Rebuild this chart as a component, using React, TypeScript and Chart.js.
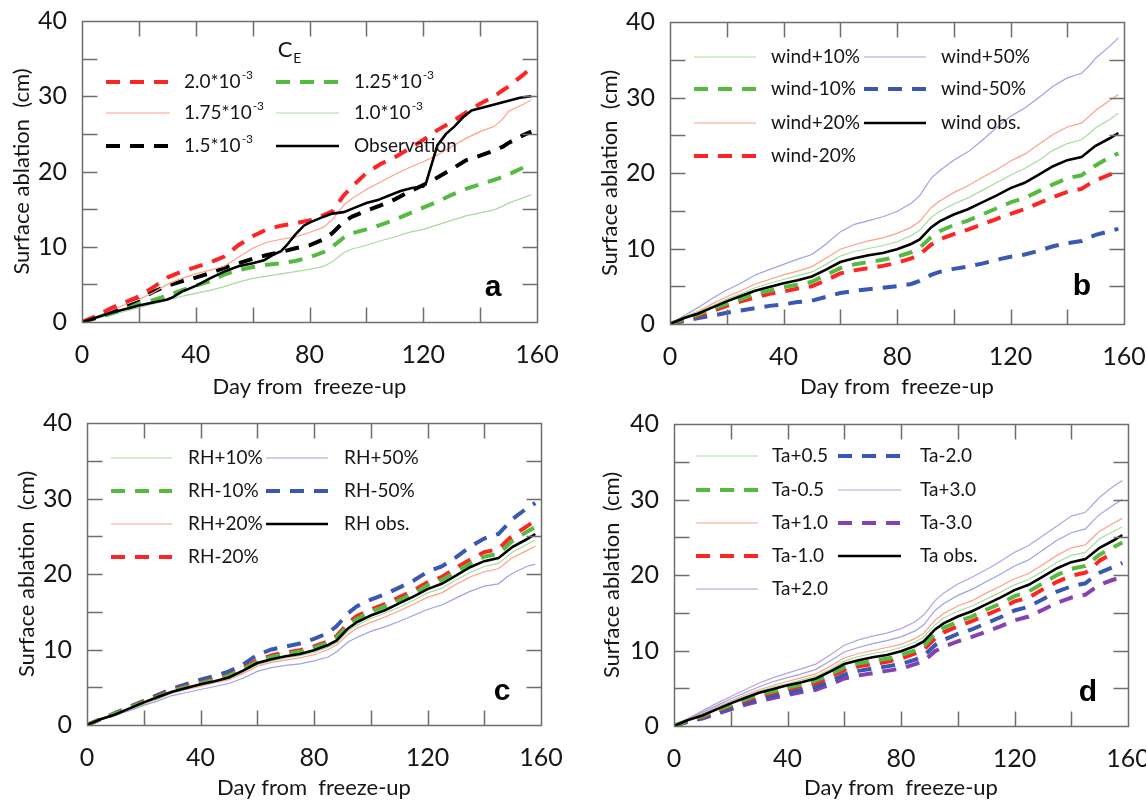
import React, { useEffect, useRef } from 'react';
import { Chart, registerables } from 'chart.js';
Chart.register(...registerables);

// ---------- DATA ----------
const days = [0, 5, 10, 15, 20, 25, 30, 35, 40, 45, 50, 55, 60, 65, 70, 75, 80, 85, 88, 92, 95, 100, 105, 110, 115, 120, 125, 130, 135, 140, 145, 148, 150, 155, 158];

// Panel a
const obsADays = [0, 5, 10, 15, 20, 25, 30, 32, 35, 40, 45, 50, 55, 60, 64, 67, 70, 72, 75, 78, 80, 85, 88, 92, 96, 100, 104, 108, 112, 116, 120, 121, 123, 125, 128, 131, 134, 137, 142, 146, 150, 154, 158];
const obsA = [0, 0.6, 1.2, 1.7, 2.2, 2.6, 3.0, 3.3, 4.0, 4.8, 5.8, 6.7, 7.4, 7.8, 8.2, 8.9, 9.4, 10.2, 11.6, 12.8, 13.2, 14.0, 14.4, 14.6, 15.2, 15.8, 16.2, 16.8, 17.4, 17.8, 18.0, 18.5, 21.0, 23.5, 25.0, 26.0, 27.2, 28.1, 28.6, 29.0, 29.4, 29.8, 30.0];
const ce20 = [0, 0.8, 1.8, 2.6, 3.4, 4.6, 5.9, 6.7, 7.3, 7.9, 8.7, 10.2, 11.4, 12.3, 12.8, 13.1, 13.5, 14.2, 14.7, 16.8, 18.0, 19.8, 21.0, 21.9, 23.0, 24.2, 25.5, 26.6, 27.8, 29.0, 30.0, 30.8, 31.3, 32.8, 33.8];
const ce175 = [0, 0.7, 1.5, 2.3, 3.0, 3.9, 5.0, 5.8, 6.4, 6.9, 7.4, 8.6, 9.8, 10.6, 11.0, 11.3, 11.9, 12.6, 13.6, 15.5, 16.4, 17.6, 18.6, 19.6, 20.5, 21.3, 22.2, 23.3, 24.4, 25.3, 26.0, 27.0, 28.0, 28.9, 29.5];
const ce15 = [0, 0.6, 1.4, 2.2, 3.0, 4.0, 4.8, 5.4, 5.9, 6.5, 7.2, 7.8, 8.4, 8.9, 9.3, 9.8, 10.2, 11.0, 11.8, 13.3, 14.0, 14.8, 15.5, 16.3, 17.3, 18.2, 19.2, 20.3, 21.5, 22.1, 22.8, 23.3, 23.8, 24.8, 25.3];
const ce125 = [0, 0.5, 1.1, 1.7, 2.4, 2.9, 3.5, 4.2, 4.8, 5.4, 6.3, 6.9, 7.3, 7.6, 7.8, 8.1, 8.6, 9.3, 10.0, 11.2, 11.8, 12.3, 12.9, 13.6, 14.4, 15.2, 16.0, 16.9, 17.7, 18.3, 18.9, 19.3, 19.6, 20.5, 21.1];
const ce10 = [0, 0.5, 0.9, 1.4, 1.9, 2.4, 2.9, 3.4, 3.8, 4.2, 4.7, 5.3, 5.8, 6.1, 6.4, 6.7, 7.0, 7.4, 8.0, 9.2, 9.7, 10.2, 10.8, 11.3, 11.9, 12.3, 12.9, 13.5, 14.1, 14.5, 14.9, 15.4, 15.8, 16.5, 16.9];

// Shared "obs." run (panels b, c, d)
const baseObs = [0, 0.8, 1.4, 2.2, 3.0, 3.7, 4.4, 4.9, 5.4, 5.8, 6.3, 7.2, 8.2, 8.7, 9.1, 9.4, 9.9, 10.6, 11.2, 12.8, 13.6, 14.5, 15.2, 16.1, 17.0, 18.0, 18.7, 19.8, 20.9, 21.7, 22.1, 23.0, 23.6, 24.6, 25.3];

// Panel b
const windP10 = [0, 0.85, 1.6, 2.4, 3.3, 4.0, 4.8, 5.4, 5.9, 6.4, 6.9, 7.9, 9.0, 9.6, 10.0, 10.4, 10.9, 11.7, 12.4, 14.1, 14.9, 15.9, 16.7, 17.7, 18.7, 19.7, 20.6, 21.7, 23.0, 23.9, 24.4, 25.3, 26.0, 27.1, 27.9];
const windM10 = [0, 0.7, 1.3, 2.0, 2.7, 3.3, 4.0, 4.4, 4.9, 5.2, 5.6, 6.5, 7.4, 7.9, 8.2, 8.5, 8.9, 9.5, 10.1, 11.5, 12.3, 13.1, 13.7, 14.5, 15.3, 16.1, 16.7, 17.6, 18.5, 19.3, 19.7, 20.5, 21.0, 22.1, 22.6];
const windP20 = [0, 0.9, 1.7, 2.7, 3.6, 4.4, 5.3, 5.9, 6.5, 7.0, 7.6, 8.7, 9.9, 10.5, 11.0, 11.4, 12.0, 12.8, 13.6, 15.4, 16.3, 17.4, 18.3, 19.4, 20.4, 21.6, 22.5, 23.8, 25.1, 26.1, 26.6, 27.6, 28.3, 29.6, 30.4];
const windM20 = [0, 0.6, 1.1, 1.7, 2.4, 3.0, 3.5, 4.0, 4.3, 4.7, 5.0, 5.8, 6.7, 7.1, 7.4, 7.7, 8.1, 8.7, 9.2, 10.5, 11.2, 11.9, 12.5, 13.2, 13.9, 14.6, 15.2, 16.0, 16.8, 17.5, 17.9, 18.6, 19.0, 19.8, 20.2];
const windP50 = [0, 1.1, 2.2, 3.4, 4.5, 5.4, 6.5, 7.2, 7.9, 8.6, 9.2, 10.6, 12.2, 13.2, 13.7, 14.2, 14.9, 16.0, 17.0, 19.3, 20.3, 21.7, 22.8, 24.3, 26.0, 27.5, 28.6, 30.0, 31.5, 32.6, 33.2, 34.3, 35.2, 36.8, 37.9];
const windM50 = [0, 0.4, 0.8, 1.1, 1.5, 1.8, 2.1, 2.4, 2.6, 2.9, 3.1, 3.6, 4.1, 4.4, 4.6, 4.8, 5.0, 5.3, 5.7, 6.5, 6.9, 7.3, 7.6, 8.0, 8.5, 8.9, 9.2, 9.7, 10.3, 10.7, 11.0, 11.5, 11.8, 12.3, 12.6];

// Panel c
const rhP10 = [0, 0.8, 1.4, 2.1, 2.9, 3.6, 4.3, 4.8, 5.3, 5.7, 6.2, 7.0, 8.0, 8.5, 8.9, 9.2, 9.6, 10.3, 10.9, 12.4, 13.2, 14.1, 14.8, 15.6, 16.5, 17.5, 18.1, 19.2, 20.2, 21.0, 21.4, 22.3, 22.9, 23.9, 24.5];
const rhM10 = [0, 0.8, 1.5, 2.3, 3.0, 3.7, 4.5, 5.0, 5.5, 6.0, 6.5, 7.4, 8.4, 9.0, 9.4, 9.7, 10.2, 10.9, 11.6, 13.2, 14.0, 15.0, 15.7, 16.5, 17.4, 18.5, 19.2, 20.3, 21.4, 22.3, 22.7, 23.7, 24.4, 25.6, 26.2];
const rhP20 = [0, 0.7, 1.4, 2.1, 2.8, 3.5, 4.2, 4.7, 5.1, 5.6, 6.0, 6.8, 7.8, 8.3, 8.6, 8.9, 9.3, 10.0, 10.6, 12.0, 12.8, 13.6, 14.3, 15.1, 16.0, 16.9, 17.5, 18.6, 19.6, 20.3, 20.7, 21.6, 22.2, 23.1, 23.7];
const rhM20 = [0, 0.8, 1.5, 2.3, 3.1, 3.8, 4.6, 5.1, 5.6, 6.1, 6.6, 7.5, 8.6, 9.2, 9.6, 9.9, 10.4, 11.1, 11.8, 13.5, 14.4, 15.3, 16.0, 16.9, 17.8, 18.9, 19.6, 20.8, 21.9, 22.9, 23.3, 24.4, 25.1, 26.3, 27.1];
const rhP50 = [0, 0.7, 1.3, 1.9, 2.6, 3.2, 3.9, 4.3, 4.7, 5.1, 5.5, 6.2, 7.1, 7.6, 7.9, 8.1, 8.5, 9.0, 9.7, 11.0, 11.6, 12.4, 13.0, 13.7, 14.5, 15.3, 15.9, 16.8, 17.7, 18.4, 18.7, 19.6, 20.1, 21.0, 21.3];
const rhM50 = [0, 0.8, 1.6, 2.4, 3.2, 4.0, 4.8, 5.4, 6.0, 6.5, 7.1, 8.0, 9.3, 10.0, 10.4, 10.8, 11.4, 12.2, 13.1, 14.8, 15.7, 16.6, 17.3, 18.2, 19.1, 20.3, 21.0, 22.2, 23.6, 24.7, 25.3, 26.5, 27.3, 28.7, 29.4];

// Panel d
const taP05 = [0, 0.85, 1.5, 2.4, 3.2, 3.9, 4.6, 5.2, 5.6, 6.1, 6.6, 7.5, 8.6, 9.2, 9.6, 9.9, 10.4, 11.1, 11.8, 13.4, 14.3, 15.2, 15.9, 16.8, 17.7, 18.7, 19.4, 20.5, 21.7, 22.6, 23.0, 24.1, 24.8, 25.8, 26.4];
const taM05 = [0, 0.75, 1.3, 2.1, 2.8, 3.5, 4.2, 4.6, 5.1, 5.5, 6.0, 6.8, 7.8, 8.3, 8.6, 8.9, 9.4, 10.0, 10.6, 12.2, 13.0, 13.8, 14.5, 15.4, 16.2, 17.2, 17.8, 18.9, 20.0, 20.8, 21.2, 22.1, 22.7, 23.7, 24.3];
const taP10 = [0, 0.9, 1.6, 2.5, 3.3, 4.1, 4.8, 5.4, 5.9, 6.4, 6.9, 7.9, 9.0, 9.6, 10.0, 10.4, 10.8, 11.6, 12.3, 14.0, 14.9, 15.9, 16.6, 17.6, 18.5, 19.5, 20.2, 21.4, 22.6, 23.6, 24.0, 25.1, 25.8, 26.9, 27.5];
const taM10 = [0, 0.7, 1.2, 2.0, 2.7, 3.3, 4.0, 4.4, 4.9, 5.3, 5.7, 6.5, 7.4, 7.9, 8.2, 8.5, 8.9, 9.6, 10.1, 11.6, 12.4, 13.2, 13.9, 14.7, 15.5, 16.5, 17.0, 18.1, 19.1, 19.9, 20.3, 21.2, 21.9, 23.0, null];
const taP20 = [0, 0.95, 1.8, 2.7, 3.6, 4.4, 5.2, 5.9, 6.4, 6.9, 7.5, 8.6, 9.8, 10.4, 10.9, 11.3, 11.8, 12.6, 13.4, 15.3, 16.2, 17.3, 18.1, 19.1, 20.1, 21.2, 22.0, 23.3, 24.6, 25.6, 26.1, 27.3, 28.0, 29.3, 30.0];
const taM20 = [0, 0.6, 1.1, 1.8, 2.4, 3.0, 3.6, 4.0, 4.4, 4.8, 5.2, 5.9, 6.8, 7.3, 7.6, 7.9, 8.2, 8.8, 9.3, 10.7, 11.4, 12.2, 12.8, 13.6, 14.4, 15.3, 15.8, 16.8, 17.8, 18.5, 18.9, 19.8, 20.3, 21.1, 21.6];
const taP30 = [0, 1.0, 2.0, 3.0, 3.9, 4.8, 5.7, 6.4, 7.0, 7.6, 8.2, 9.4, 10.7, 11.4, 11.9, 12.3, 12.9, 13.8, 14.7, 16.6, 17.6, 18.8, 19.7, 20.7, 21.8, 23.0, 23.9, 25.2, 26.5, 27.8, 28.3, 29.5, 30.3, 31.8, 32.5];
const taM30 = [0, 0.6, 1.0, 1.6, 2.2, 2.8, 3.3, 3.7, 4.1, 4.5, 4.8, 5.5, 6.3, 6.7, 7.0, 7.3, 7.6, 8.2, 8.6, 9.9, 10.5, 11.2, 11.8, 12.5, 13.2, 14.0, 14.5, 15.4, 16.3, 17.0, 17.4, 18.2, 18.7, 19.4, 19.7];

// Axes
const xMin = 0, xMax = 160, xStep = 20, xLabelEvery = 40;
const yMin = 0, yMax = 40, yStep = 5, yLabelEvery = 10;
const xTitle = 'Day from  freeze-up';
const yTitle = 'Surface ablation  (cm)';

// ---------- STYLES ----------
const GRID = '#6e6e6e';
const TXT = '#161616';
const FONT = 'Lato, "Open Sans", sans-serif';
const RED = '#ff2424';
const SALMON = '#ffa088';
const GREEN = '#55bb40';
const LGREEN = '#a8dc9c';
const BLUE = '#3858b4';
const LAV = '#9ea2e2';
const LPURPLE = '#bba0e2';
const PURPLE = '#8640b0';
const BLACK = '#000000';
const DASH = [14, 10];
const TICK_LEN = 15;
const LEGEND_FONT = 19;

type S = { label: string; x?: number[]; y: (number | null)[]; color: string; w: number; dash?: number[] };

function ds(s: S) {
  const xs = s.x || days;
  return {
    label: s.label,
    data: xs.map((d, i) => ({ x: d, y: s.y[i] })),
    borderColor: s.color,
    backgroundColor: s.color,
    borderWidth: s.w,
    borderDash: s.dash || [],
    pointRadius: 0,
    tension: 0,
    fill: false,
    spanGaps: false,
  };
}

const thin = 1.2;
const dashW = 4;
const obsW = 2.6;

type Panel = {
  left: number; top: number; w: number; h: number;
  yW: number; padR: number; padT: number; xH: number;
  yTitlePad: number;
  series: S[];
  legend: { cols: number[][]; lineStart: number[]; lineEnd: number[]; textX: number[]; rows: number[] };
  title?: { x: number; y: number };
  letter: string; letterDX: number; letterDY: number;
};

const panels: Panel[] = [
  {
    left: 0, top: 0, w: 573, h: 400, yW: 82, padR: 36, padT: 21, xH: 78, yTitlePad: 9,
    series: [
      { label: 'Observation', x: obsADays, y: obsA, color: BLACK, w: obsW },
      { label: '2.0*10^-3', y: ce20, color: RED, w: dashW, dash: DASH },
      { label: '1.75*10^-3', y: ce175, color: SALMON, w: thin },
      { label: '1.5*10^-3', y: ce15, color: BLACK, w: dashW, dash: DASH },
      { label: '1.25*10^-3', y: ce125, color: GREEN, w: dashW, dash: DASH },
      { label: '1.0*10^-3', y: ce10, color: LGREEN, w: thin },
    ],
    legend: { cols: [[1, 2, 3], [4, 5, 0]], lineStart: [24, 194], lineEnd: [88, 257], textX: [102, 272], rows: [61, 92, 125] },
    title: { x: 203, y: 29 },
    letter: 'a', letterDX: 44, letterDY: 34,
  },
  {
    left: 573, top: 0, w: 573, h: 400, yW: 97, padR: 22, padT: 22, xH: 76, yTitlePad: 24,
    series: [
      { label: 'wind obs.', y: baseObs, color: BLACK, w: obsW },
      { label: 'wind+10%', y: windP10, color: LGREEN, w: thin },
      { label: 'wind-10%', y: windM10, color: GREEN, w: dashW, dash: DASH },
      { label: 'wind+20%', y: windP20, color: SALMON, w: thin },
      { label: 'wind-20%', y: windM20, color: RED, w: dashW, dash: DASH },
      { label: 'wind+50%', y: windP50, color: LAV, w: thin },
      { label: 'wind-50%', y: windM50, color: BLUE, w: dashW, dash: DASH },
    ],
    legend: { cols: [[1, 2, 3, 4], [5, 6, 0]], lineStart: [24, 194], lineEnd: [86, 256], textX: [101, 271], rows: [35, 67, 101, 134] },
    letter: 'b', letterDX: 42, letterDY: 37,
  },
  {
    left: 0, top: 400, w: 573, h: 401, yW: 87, padR: 32, padT: 23, xH: 76, yTitlePad: 14,
    series: [
      { label: 'RH obs.', y: baseObs, color: BLACK, w: obsW },
      { label: 'RH+10%', y: rhP10, color: LGREEN, w: thin },
      { label: 'RH-10%', y: rhM10, color: GREEN, w: dashW, dash: DASH },
      { label: 'RH+20%', y: rhP20, color: SALMON, w: thin },
      { label: 'RH-20%', y: rhM20, color: RED, w: dashW, dash: DASH },
      { label: 'RH+50%', y: rhP50, color: LAV, w: thin },
      { label: 'RH-50%', y: rhM50, color: BLUE, w: dashW, dash: DASH },
    ],
    legend: { cols: [[1, 2, 3, 4], [5, 6, 0]], lineStart: [24, 179], lineEnd: [85, 241], textX: [101, 257], rows: [35, 68, 101, 134] },
    letter: 'c', letterDX: 39, letterDY: 33,
  },
  {
    left: 573, top: 400, w: 573, h: 401, yW: 101, padR: 18, padT: 24, xH: 75, yTitlePad: 26,
    series: [
      { label: 'Ta obs.', y: baseObs, color: BLACK, w: obsW },
      { label: 'Ta+0.5', y: taP05, color: LGREEN, w: thin },
      { label: 'Ta-0.5', y: taM05, color: GREEN, w: dashW, dash: DASH },
      { label: 'Ta+1.0', y: taP10, color: SALMON, w: thin },
      { label: 'Ta-1.0', y: taM10, color: RED, w: dashW, dash: DASH },
      { label: 'Ta+2.0', y: taP20, color: LAV, w: thin },
      { label: 'Ta-2.0', y: taM20, color: BLUE, w: dashW, dash: DASH },
      { label: 'Ta+3.0', y: taP30, color: LPURPLE, w: thin },
      { label: 'Ta-3.0', y: taM30, color: PURPLE, w: dashW, dash: DASH },
    ],
    legend: { cols: [[1, 2, 3, 4, 5], [6, 7, 8, 0]], lineStart: [22, 164], lineEnd: [84, 227], textX: [98, 246], rows: [32, 66, 99, 132, 165] },
    letter: 'd', letterDX: 40, letterDY: 33,
  },
];

function drawLabel(ctx: CanvasRenderingContext2D, text: string, x: number, y: number) {
  const [base, sup] = text.split('^');
  ctx.font = `${LEGEND_FONT}px ${FONT}`;
  ctx.textAlign = 'left';
  ctx.textBaseline = 'middle';
  ctx.fillStyle = TXT;
  ctx.fillText(base, x, y);
  if (sup) {
    const w = ctx.measureText(base).width;
    ctx.font = `12px ${FONT}`;
    ctx.fillText(sup, x + w + 1, y - 7);
  }
}

// Frame: box with inward tick marks at every scale tick (all four sides), one path
const framePlugin = {
  id: 'frame',
  afterDatasetsDraw(chart: any) {
    const { ctx, chartArea, scales } = chart;
    const L = Math.round(chartArea.left) + 0.5;
    const R = Math.round(chartArea.right) + 0.5;
    const T = Math.round(chartArea.top) + 0.5;
    const B = Math.round(chartArea.bottom) + 0.5;
    const xs: number[] = [];
    for (let v = xMin; v <= xMax; v += xStep) xs.push(Math.round(scales.x.getPixelForValue(v)) + 0.5);
    const ys: number[] = [];
    for (let v = yMin; v <= yMax; v += yStep) ys.push(Math.round(scales.y.getPixelForValue(v)) + 0.5);
    ctx.save();
    ctx.setLineDash([]);
    ctx.globalAlpha = 1;
    ctx.strokeStyle = GRID;
    ctx.lineWidth = 1.5;
    ctx.beginPath();
    ctx.rect(L, T, R - L, B - T);
    xs.forEach((px) => {
      ctx.moveTo(px, B); ctx.lineTo(px, B - TICK_LEN);
      ctx.moveTo(px, T); ctx.lineTo(px, T + TICK_LEN);
    });
    ys.forEach((py) => {
      ctx.moveTo(L, py); ctx.lineTo(L + TICK_LEN, py);
      ctx.moveTo(R, py); ctx.lineTo(R - TICK_LEN, py);
    });
    ctx.stroke();
    ctx.restore();
  },
};

function makeDecor(p: Panel) {
  return {
    id: 'decor',
    afterDatasetsDraw(chart: any) {
      const { ctx, chartArea } = chart;
      const L = chartArea.left, T = chartArea.top;
      ctx.save();
      p.legend.cols.forEach((col, ci) => {
        col.forEach((di, ri) => {
          const d = chart.data.datasets[di];
          const y = T + p.legend.rows[ri];
          ctx.beginPath();
          ctx.strokeStyle = d.borderColor;
          ctx.lineWidth = d.borderWidth;
          ctx.setLineDash(d.borderDash || []);
          ctx.moveTo(L + p.legend.lineStart[ci], y);
          ctx.lineTo(L + p.legend.lineEnd[ci], y);
          ctx.stroke();
          ctx.setLineDash([]);
          drawLabel(ctx, d.label, L + p.legend.textX[ci], y);
        });
      });
      if (p.title) {
        ctx.fillStyle = TXT;
        ctx.textBaseline = 'middle';
        ctx.textAlign = 'center';
        ctx.font = `22px ${FONT}`;
        ctx.fillText('C', L + p.title.x, T + p.title.y);
        const cw = ctx.measureText('C').width;
        ctx.font = `14px ${FONT}`;
        ctx.textAlign = 'left';
        ctx.fillText('E', L + p.title.x + cw / 2 + 1, T + p.title.y + 8);
      }
      ctx.fillStyle = '#000';
      ctx.font = `bold 30px "Liberation Sans", Arial, sans-serif`;
      ctx.textAlign = 'center';
      ctx.textBaseline = 'middle';
      ctx.fillText(p.letter, chartArea.right - p.letterDX, chartArea.bottom - p.letterDY);
      ctx.restore();
    },
  };
}

function buildConfig(p: Panel): any {
  const gridOpts = { display: false, drawTicks: false };
  const border = { display: false };
  return {
    type: 'line',
    data: { datasets: p.series.map(ds) },
    options: {
      responsive: false,
      animation: false,
      events: [],
      layout: { padding: { top: p.padT, right: p.padR, left: 0, bottom: 0 }, autoPadding: false },
      plugins: { legend: { display: false }, tooltip: { enabled: false } },
      scales: {
        x: {
          type: 'linear', position: 'bottom', min: xMin, max: xMax,
          afterFit: (s: any) => {
            s.height = p.xH;
            s.paddingLeft = 0; s.paddingRight = 0; s.paddingTop = 0; s.paddingBottom = 0;
          },
          ticks: {
            stepSize: xStep, autoSkip: false, maxRotation: 0, padding: 18, color: TXT,
            font: { family: FONT, size: 25 },
            callback: (v: number) => (v % xLabelEvery === 0 ? String(v) : ''),
          },
          grid: gridOpts, border,
          title: { display: true, text: xTitle, color: TXT, font: { family: FONT, size: 22 }, padding: { top: 0, bottom: 0 } },
        },
        y: {
          type: 'linear', position: 'left', min: yMin, max: yMax,
          afterFit: (s: any) => {
            s.width = p.yW;
            s.paddingLeft = 0; s.paddingRight = 0; s.paddingTop = 0; s.paddingBottom = 0;
          },
          ticks: {
            stepSize: yStep, autoSkip: false, padding: 15, color: TXT,
            font: { family: FONT, size: 25 },
            callback: (v: number) => (v % yLabelEvery === 0 ? String(v) : ''),
          },
          grid: gridOpts, border,
          title: { display: true, text: yTitle, color: TXT, font: { family: FONT, size: 22 }, padding: { top: p.yTitlePad, bottom: 0 } },
        },
      },
    },
    plugins: [framePlugin, makeDecor(p)],
  };
}

function PanelChart({ p }: { p: Panel }) {
  const ref = useRef<HTMLCanvasElement>(null);
  useEffect(() => {
    const chart = new Chart(ref.current as HTMLCanvasElement, buildConfig(p));
    return () => chart.destroy();
  }, [p]);
  return (
    <canvas
      ref={ref}
      width={p.w}
      height={p.h}
      style={{ position: 'absolute', left: p.left, top: p.top, width: p.w, height: p.h }}
    />
  );
}

export default function App() {
  return (
    <div style={{ position: 'absolute', left: 0, top: 0, width: 1146, height: 801, background: '#fff', overflow: 'hidden' }}>
      {panels.map((p, i) => (
        <PanelChart key={i} p={p} />
      ))}
    </div>
  );
}
